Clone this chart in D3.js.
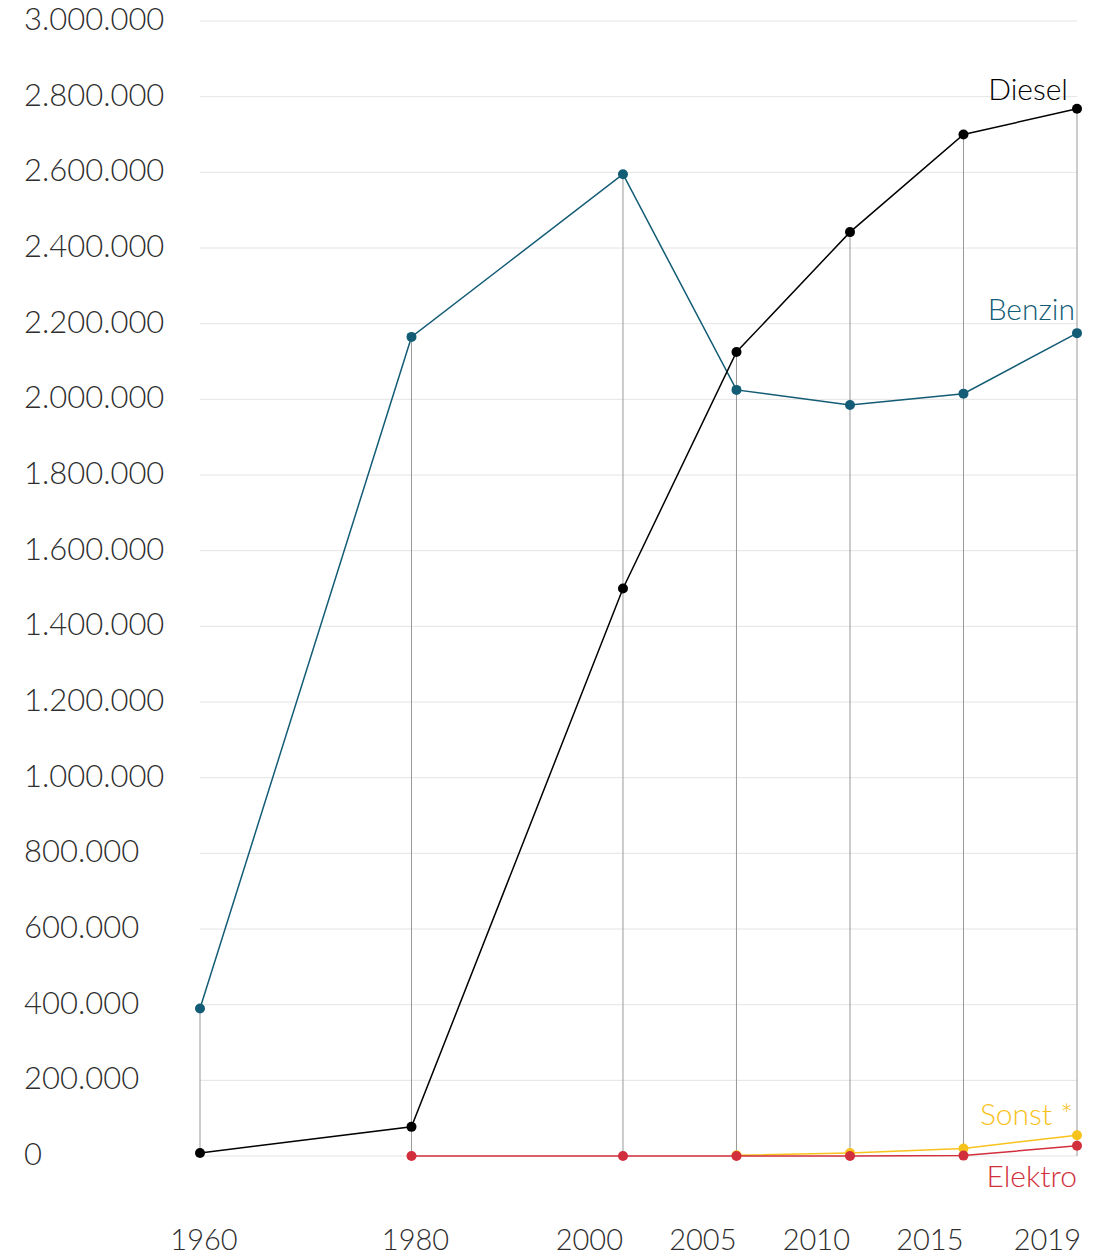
<!DOCTYPE html>
<html lang="de">
<head>
<meta charset="utf-8">
<script src="https://cdn.jsdelivr.net/npm/d3@7"></script>
<style>
  html, body { margin: 0; padding: 0; background: #fff; }
  svg { display: block; font-family: Lato, "Open Sans", sans-serif; font-weight: 300; }
</style>
</head>
<body>
<svg id="chart" width="1107" height="1259"></svg>
<script>
// Fahrzeugbestand nach Antriebsart
const years = ["1960", "1980", "2000", "2005", "2010", "2015", "2019"];
const benzin  = [390000, 2165000, 2595000, 2025000, 1985000, 2015000, 2175000];
const diesel  = [8000, 77000, 1500000, 2125000, 2442000, 2700000, 2768000];
const sonst   = [null, null, null, 2000, 8000, 20000, 55000];
const elektro = [null, 0, 0, 0, 0, 1000, 27000];
const yTicks = [0, 200000, 400000, 600000, 800000, 1000000, 1200000, 1400000,
                1600000, 1800000, 2000000, 2200000, 2400000, 2600000, 2800000, 3000000];

const series = [
  { name: "Sonst *", values: sonst,   color: "#f8c21c", labelDy: -10, labelDx: -4 },
  { name: "Elektro", values: elektro, color: "#d12f3c", labelDy: 41,  labelDx: 0 },
  { name: "Benzin",  values: benzin,  color: "#135c75", labelDy: -13, labelDx: -2 },
  { name: "Diesel",  values: diesel,  color: "#000000", labelDy: -9,  labelDx: -9 }
];

const svg = d3.select("#chart");
const plotLeft = 200, plotRight = 1077, plotTop = 21, plotBottom = 1156;

// the first three periods get double spacing
const x = d3.scaleLinear().domain([0, 2, 6])
  .range([plotLeft, plotLeft + (plotRight - plotLeft) * 0.4823, plotRight]);
const y = d3.scaleLinear().domain([0, 3000000]).range([plotBottom, plotTop]);
const fmt = d3.formatLocale({ decimal: ",", thousands: ".", grouping: [3], currency: ["", "€"] }).format(",d");

// horizontal grid
svg.append("g").selectAll("line").data(yTicks).join("line")
  .attr("x1", plotLeft).attr("x2", plotRight)
  .attr("y1", d => y(d)).attr("y2", d => y(d))
  .attr("stroke", "#e4e4e4").attr("stroke-width", 1);

// y labels
svg.append("g").selectAll("text").data(yTicks).join("text")
  .attr("x", 24).attr("y", d => y(d) - 2)
  .attr("dy", "0.36em")
  .attr("font-size", 31).attr("fill", "#2e2e2e")
  .text(d => fmt(d));

// vertical drop lines from the highest value down to zero
svg.append("g").selectAll("line").data(years).join("line")
  .attr("x1", (d, i) => x(i)).attr("x2", (d, i) => x(i))
  .attr("y1", (d, i) => y(d3.max(series, s => s.values[i] ?? 0)))
  .attr("y2", y(0))
  .attr("stroke", "#999").attr("stroke-width", 1);

// x labels
svg.append("g").selectAll("text").data(years).join("text")
  .attr("x", (d, i) => i < 2 ? x(i) + 4 : (i === years.length - 1 ? x(i) + 4 : x(i)))
  .attr("y", 1250)
  .attr("text-anchor", (d, i) => i < 2 ? "middle" : "end")
  .attr("font-size", 29).attr("fill", "#2e2e2e")
  .text(d => d);

const line = d3.line()
  .x(d => x(d.i)).y(d => y(d.v));

series.forEach(s => {
  const pts = s.values.map((v, i) => ({ i, v })).filter(d => d.v !== null);
  const g = svg.append("g");
  g.append("path").datum(pts)
    .attr("d", line).attr("fill", "none")
    .attr("stroke", s.color).attr("stroke-width", 1.5);
  g.selectAll("circle").data(pts).join("circle")
    .attr("cx", d => x(d.i)).attr("cy", d => y(d.v)).attr("r", 5)
    .attr("fill", s.color);
  const last = pts[pts.length - 1];
  g.append("text")
    .attr("x", x(last.i) + s.labelDx)
    .attr("y", y(last.v) + s.labelDy)
    .attr("text-anchor", "end")
    .attr("font-size", 30).attr("fill", s.color)
    .text(s.name);
});
</script>
</body>
</html>
